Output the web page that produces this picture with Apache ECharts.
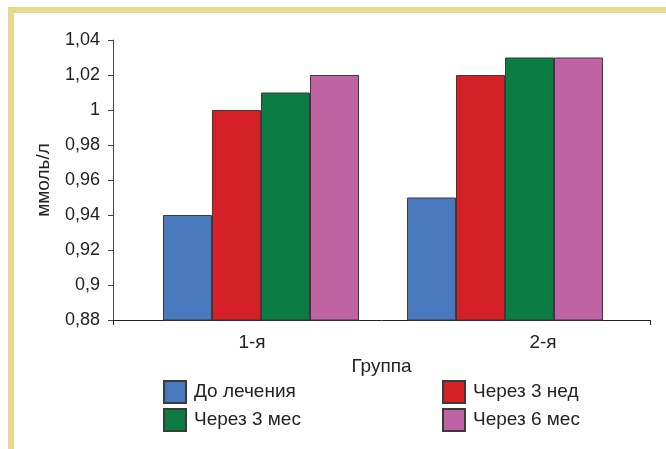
<!DOCTYPE html>
<html><head><meta charset="utf-8">
<script src="https://cdn.jsdelivr.net/npm/echarts@6/dist/echarts.min.js"></script>
<style>html,body{margin:0;padding:0;background:#fff}#c{width:666px;height:449px}</style>
</head><body><div id="c"></div>
<script>
const categories = ['1-я', '2-я'];
const seriesNames = ['До лечения', 'Через 3 нед', 'Через 3 мес', 'Через 6 мес'];
const before = [0.94, 0.95];
const after3w = [1.00, 1.02];
const after3m = [1.01, 1.03];
const after6m = [1.02, 1.03];
const yTicks = [0.88, 0.90, 0.92, 0.94, 0.96, 0.98, 1.00, 1.02, 1.04];
const colors = ['#4878be', '#d52027', '#0b7d43', '#c063a4'];
const values = [before, after3w, after3m, after6m];

const FONT = '"Liberation Sans Narrow", "Arial Narrow", "Liberation Sans", sans-serif';
const fmt = v => String(+v.toFixed(2)).replace('.', ',');

const chart = echarts.init(document.getElementById('c'));
const TOP = 40, BOTTOM = 129;
chart.setOption({
  animation: false,
  backgroundColor: '#fff',
  textStyle: { fontFamily: FONT },
  graphic: [
    { type: 'rect', shape: { x: 8, y: 7, width: 658, height: 6 }, style: { fill: '#e5da8e' }, silent: true },
    { type: 'rect', shape: { x: 8, y: 7, width: 6, height: 442 }, style: { fill: '#e5da8e' }, silent: true }
  ],
  grid: [
    { left: 113, right: 16, top: TOP, bottom: BOTTOM },
    { left: 139, right: 39, top: TOP, bottom: BOTTOM },
    { left: 252, width: 291, top: TOP, bottom: BOTTOM }
  ],
  xAxis: [
    { type: 'category', gridIndex: 0, data: categories,
      axisLine: { lineStyle: { color: '#222', width: 1 } },
      axisTick: { show: true, length: 5, interval: (i) => i !== 1, lineStyle: { color: '#222' } },
      axisLabel: { show: false },
      name: 'Группа', nameLocation: 'middle', nameGap: 37,
      nameTextStyle: { fontSize: 19, color: '#222', fontFamily: FONT }
    },
    { type: 'category', gridIndex: 1, data: categories, show: false },
    { type: 'category', gridIndex: 2, data: categories, boundaryGap: false,
      axisLine: { show: false }, axisTick: { show: false },
      axisLabel: { fontSize: 19, color: '#222', margin: 13, fontFamily: FONT }
    }
  ],
  yAxis: [
    { type: 'value', gridIndex: 0, min: yTicks[0], max: yTicks[yTicks.length - 1], interval: 0.02,
      axisLine: { show: true, lineStyle: { color: '#444' } },
      axisTick: { show: true, length: 5, lineStyle: { color: '#444' } },
      splitLine: { show: false },
      axisLabel: { formatter: fmt, fontSize: 18, color: '#222', margin: 13, fontFamily: FONT },
      name: 'ммоль/л', nameLocation: 'middle', nameGap: 60, nameRotate: 90,
      nameTextStyle: { fontSize: 19, color: '#222', fontFamily: FONT }
    },
    { type: 'value', gridIndex: 1, min: yTicks[0], max: yTicks[yTicks.length - 1], interval: 0.02, show: false, splitLine: { show: false } },
    { type: 'value', gridIndex: 2, min: yTicks[0], max: yTicks[yTicks.length - 1], interval: 0.02, show: false, splitLine: { show: false } }
  ],
  legend: [
    { data: [seriesNames[0], seriesNames[2]], orient: 'vertical', left: 163, top: 380, padding: 0,
      itemWidth: 22, itemHeight: 22, itemGap: 4, icon: 'rect',
      textStyle: { fontSize: 19, color: '#222', fontFamily: FONT, padding: [0, 0, 0, 3] } },
    { data: [seriesNames[1], seriesNames[3]], orient: 'vertical', left: 442, top: 380, padding: 0,
      itemWidth: 22, itemHeight: 22, itemGap: 4, icon: 'rect',
      textStyle: { fontSize: 19, color: '#222', fontFamily: FONT, padding: [0, 0, 0, 3] } }
  ],
  series: seriesNames.map((n, i) => ({
    name: n, type: 'bar', xAxisIndex: 1, yAxisIndex: 1,
    data: values[i], barWidth: 49, barGap: '0%',
    itemStyle: { color: colors[i], borderColor: '#3a3a3a', borderWidth: 1 }
  }))
});
</script></body></html>
